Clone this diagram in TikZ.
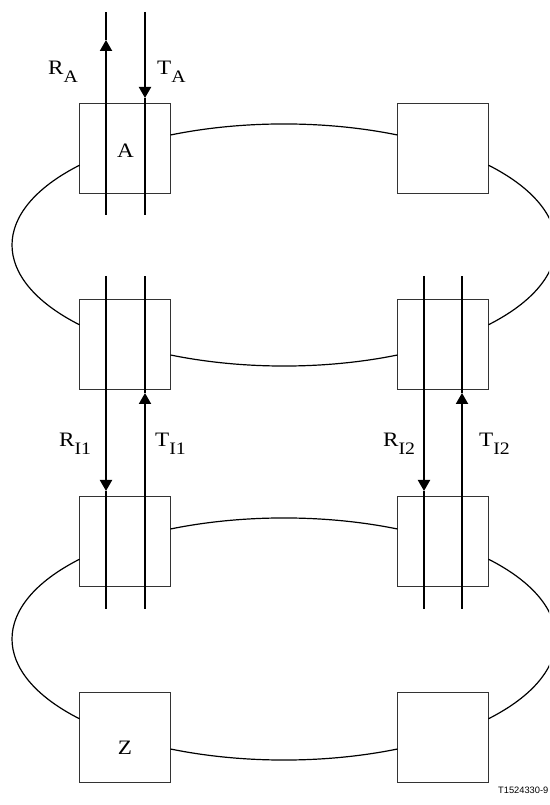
\documentclass[tikz,border=0pt]{standalone}
\usepackage{fontspec}
\setmainfont{Liberation Serif}[FakeStretch=1.13]
\newfontfamily\codefont{Liberation Sans}
\usetikzlibrary{arrows.meta,calc}
\newcommand{\sublab}[2]{#1\raisebox{-7.5pt}{\fontsize{17.5}{17.5}\selectfont #2}}
\begin{document}
\begin{tikzpicture}[x=1pt,y=1pt,
  box/.style={draw=black!80, line width=0.9pt, fill=white, minimum width=91pt, minimum height=90pt, inner sep=0pt, outer sep=0pt},
  ring/.style={line width=1.2pt},
  sig/.style={line width=2pt},
  sigarrow/.style={sig, -{Triangle[length=11pt,width=12pt]}},
  lab/.style={font=\fontsize{20.5}{20.5}\selectfont, inner sep=0pt, anchor=base west},
  ell/.style={x radius=272, y radius=121}]
\useasboundingbox (0,0) rectangle (549,805);
\clip (0,0) rectangle (549,805);
% boxes
\node[box] (A) at (125,657) {};
\node[box] (B) at (443,657) {};
\node[box] (C) at (125,460.5) {};
\node[box] (D) at (443,460.5) {};
\node[box] (E) at (125,263.5) {};
\node[box] (F) at (443,263.5) {};
\node[box] (Z) at (125,67.5) {};
\node[box] (H) at (443,67.5) {};
% upper ring
\draw[ring] ($(A.east)+(0,13)$) arc[start angle=114.66, end angle=65.34, ell];
\draw[ring] ($(B.east)+(0,-17.2)$) arc[start angle=41.25, end angle=-41.25, ell];
\draw[ring] ($(D.west)+(0,-10.5)$) arc[start angle=-65.34, end angle=-114.66, ell];
\draw[ring] ($(C.west)+(0,19.7)$) arc[start angle=221.25, end angle=138.75, ell];
% lower ring
\draw[ring] ($(E.east)+(0,12.5)$) arc[start angle=114.66, end angle=65.34, ell];
\draw[ring] ($(F.east)+(0,-17.7)$) arc[start angle=41.25, end angle=-41.25, ell];
\draw[ring] ($(H.west)+(0,-11.5)$) arc[start angle=-65.34, end angle=-114.66, ell];
\draw[ring] ($(Z.west)+(0,18.7)$) arc[start angle=221.25, end angle=138.75, ell];
% signal line end points
\coordinate (ra-top) at (106,793); \coordinate (ra-tip) at (106,765); \coordinate (ra-bot) at (106,590);
\coordinate (ta-top) at (145,793); \coordinate (ta-tip) at (145,707); \coordinate (ta-bot) at (145,590);
\coordinate (ri1-top) at (106,529); \coordinate (ri1-tip) at (106,314); \coordinate (ri1-bot) at (106,196);
\coordinate (ti1-top) at (145,529); \coordinate (ti1-tip) at (145,412); \coordinate (ti1-bot) at (145,196);
\coordinate (ri2-top) at (424,529); \coordinate (ri2-tip) at (424,314); \coordinate (ri2-bot) at (424,196);
\coordinate (ti2-top) at (462,529); \coordinate (ti2-tip) at (462,412); \coordinate (ti2-bot) at (462,196);
% signal lines
\draw[sigarrow] (ra-bot) -- (ra-tip); \draw[sig] (ra-tip) -- (ra-top);
\draw[sigarrow] (ta-top) -- (ta-tip); \draw[sig] (ta-tip) -- (ta-bot);
\draw[sigarrow] (ri1-top) -- (ri1-tip); \draw[sig] (ri1-tip) -- (ri1-bot);
\draw[sigarrow] (ti1-bot) -- (ti1-tip); \draw[sig] (ti1-tip) -- (ti1-top);
\draw[sigarrow] (ri2-top) -- (ri2-tip); \draw[sig] (ri2-tip) -- (ri2-bot);
\draw[sigarrow] (ti2-bot) -- (ti2-tip); \draw[sig] (ti2-tip) -- (ti2-top);
% labels
\node[lab] (lra) at (48,730) {\sublab{R}{A}};
\node[lab] (lta) at (157,730) {\sublab{T}{A}};
\node[lab] (lri1) at (59,358) {\sublab{R}{I1}};
\node[lab] (lti1) at (155,358) {\sublab{T}{I1}};
\node[lab] (lri2) at (383,358) {\sublab{R}{I2}};
\node[lab] (lti2) at (479,358) {\sublab{T}{I2}};
\node[font=\fontsize{20.5}{20.5}\selectfont, inner sep=0pt, anchor=base] (la) at (125.5,647) {A};
\node[font=\fontsize{20.5}{20.5}\selectfont, inner sep=0pt, anchor=base] (lz) at (125,50) {Z};
\node[font=\codefont\fontsize{9.3}{10}\selectfont, inner sep=0pt, anchor=base east] (code) at (548.5,11) {T1524330-9};
\end{tikzpicture}
\end{document}
